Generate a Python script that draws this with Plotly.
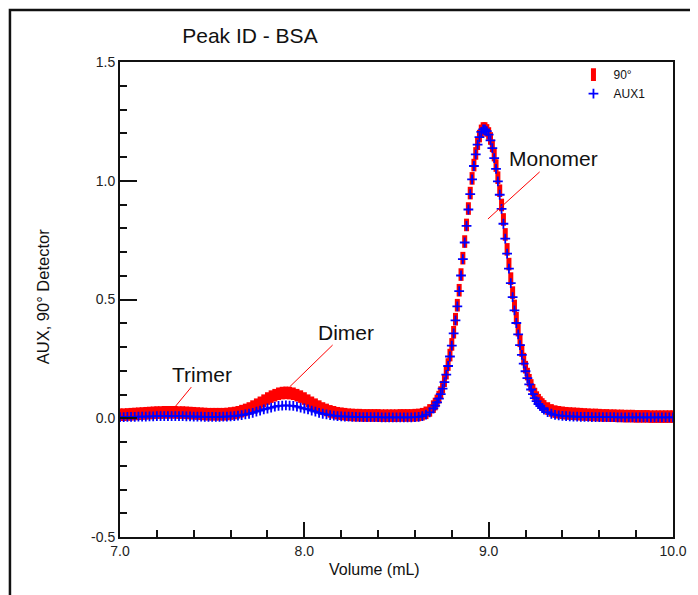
import plotly.graph_objects as go

# ---------------- data ----------------
volume_ml = [
    7.00, 7.02, 7.04, 7.06, 7.08, 7.10, 7.12, 7.14, 7.16, 7.18,
    7.20, 7.22, 7.24, 7.26, 7.28, 7.30, 7.32, 7.34, 7.36, 7.38,
    7.40, 7.42, 7.44, 7.46, 7.48, 7.50, 7.52, 7.54, 7.56, 7.58,
    7.60, 7.62, 7.64, 7.66, 7.68, 7.70, 7.72, 7.74, 7.76, 7.78,
    7.80, 7.82, 7.84, 7.86, 7.88, 7.90, 7.92, 7.94, 7.96, 7.98,
    8.00, 8.02, 8.04, 8.06, 8.08, 8.10, 8.12, 8.14, 8.16, 8.18,
    8.20, 8.22, 8.24, 8.26, 8.28, 8.30, 8.32, 8.34, 8.36, 8.38,
    8.40, 8.42, 8.44, 8.46, 8.48, 8.50, 8.52, 8.54, 8.56, 8.58,
    8.60, 8.62, 8.64, 8.66, 8.68,
    8.70, 8.71, 8.72, 8.73, 8.74, 8.75, 8.76, 8.77, 8.78, 8.79,
    8.80, 8.81, 8.82, 8.83, 8.84, 8.85, 8.86, 8.87, 8.88, 8.89,
    8.90, 8.91, 8.92, 8.93, 8.94, 8.95, 8.96, 8.97, 8.98, 8.99,
    9.00, 9.01, 9.02, 9.03, 9.04, 9.05, 9.06, 9.07, 9.08, 9.09,
    9.10, 9.11, 9.12, 9.13, 9.14, 9.15, 9.16, 9.17, 9.18, 9.19,
    9.20, 9.21, 9.22, 9.23, 9.24, 9.25, 9.26, 9.27, 9.28, 9.29,
    9.30,
    9.32, 9.34, 9.36, 9.38, 9.40, 9.42, 9.44, 9.46, 9.48, 9.50,
    9.52, 9.54, 9.56, 9.58, 9.60, 9.62, 9.64, 9.66, 9.68, 9.70,
    9.72, 9.74, 9.76, 9.78, 9.80, 9.82, 9.84, 9.86, 9.88, 9.90,
    9.92, 9.94, 9.96, 9.98, 10.00,
]

signal_90deg = [
    0.015, 0.015, 0.016, 0.017, 0.018, 0.019, 0.020, 0.021, 0.022, 0.023,
    0.024, 0.024, 0.025, 0.025, 0.025, 0.025, 0.024, 0.024, 0.023, 0.022,
    0.021, 0.020, 0.019, 0.018, 0.017, 0.017, 0.017, 0.017, 0.017, 0.018,
    0.020, 0.022, 0.025, 0.030, 0.035, 0.041, 0.049, 0.057, 0.065, 0.074,
    0.083, 0.091, 0.097, 0.103, 0.106, 0.107, 0.106, 0.103, 0.097, 0.091,
    0.083, 0.074, 0.065, 0.057, 0.049, 0.041, 0.035, 0.029, 0.025, 0.021,
    0.019, 0.017, 0.015, 0.014, 0.013, 0.013, 0.012, 0.012, 0.012, 0.012,
    0.012, 0.011, 0.011, 0.011, 0.011, 0.011, 0.012, 0.012, 0.012, 0.012,
    0.013, 0.014, 0.017, 0.023, 0.033,
    0.049, 0.060, 0.073, 0.089, 0.108, 0.131, 0.158, 0.190, 0.226, 0.266,
    0.311, 0.362, 0.417, 0.476, 0.539, 0.605, 0.674, 0.744, 0.814, 0.883,
    0.948, 1.010, 1.066, 1.115, 1.156, 1.188, 1.210, 1.220, 1.220, 1.212,
    1.199, 1.178, 1.147, 1.108, 1.064, 1.013, 0.958, 0.898, 0.837, 0.774,
    0.711, 0.649, 0.588, 0.529, 0.473, 0.421, 0.371, 0.326, 0.285, 0.249,
    0.215, 0.186, 0.160, 0.138, 0.118, 0.102, 0.087, 0.076, 0.066, 0.058,
    0.050,
    0.041, 0.033, 0.028, 0.025, 0.023, 0.021, 0.020, 0.019, 0.018, 0.017,
    0.016, 0.015, 0.014, 0.014, 0.013, 0.012, 0.012, 0.011, 0.011, 0.010,
    0.010, 0.009, 0.009, 0.009, 0.008, 0.008, 0.008, 0.008, 0.007, 0.007,
    0.007, 0.007, 0.007, 0.007, 0.007,
]

signal_aux1 = [
    0.005, 0.005, 0.006, 0.006, 0.006, 0.007, 0.007, 0.007, 0.008, 0.008,
    0.009, 0.009, 0.009, 0.009, 0.009, 0.009, 0.009, 0.009, 0.008, 0.008,
    0.007, 0.007, 0.007, 0.006, 0.006, 0.006, 0.006, 0.006, 0.007, 0.007,
    0.008, 0.009, 0.011, 0.013, 0.016, 0.019, 0.023, 0.028, 0.032, 0.037,
    0.041, 0.045, 0.049, 0.052, 0.053, 0.054, 0.053, 0.052, 0.049, 0.045,
    0.041, 0.037, 0.032, 0.028, 0.023, 0.019, 0.016, 0.013, 0.011, 0.009,
    0.008, 0.007, 0.007, 0.006, 0.006, 0.005, 0.005, 0.005, 0.005, 0.005,
    0.005, 0.004, 0.004, 0.004, 0.004, 0.004, 0.004, 0.004, 0.004, 0.004,
    0.005, 0.006, 0.009, 0.015, 0.025,
    0.042, 0.053, 0.067, 0.083, 0.102, 0.125, 0.152, 0.184, 0.220, 0.260,
    0.306, 0.357, 0.412, 0.471, 0.535, 0.601, 0.670, 0.740, 0.810, 0.879,
    0.944, 1.006, 1.062, 1.111, 1.152, 1.184, 1.206, 1.216, 1.216, 1.209,
    1.194, 1.170, 1.137, 1.095, 1.050, 0.997, 0.941, 0.882, 0.819, 0.756,
    0.693, 0.630, 0.569, 0.510, 0.454, 0.401, 0.353, 0.308, 0.267, 0.230,
    0.198, 0.169, 0.143, 0.121, 0.102, 0.085, 0.072, 0.060, 0.051, 0.043,
    0.036,
    0.026, 0.019, 0.014, 0.012, 0.010, 0.009, 0.008, 0.007, 0.007, 0.006,
    0.006, 0.006, 0.005, 0.005, 0.005, 0.005, 0.005, 0.005, 0.005, 0.004,
    0.004, 0.004, 0.004, 0.004, 0.004, 0.004, 0.004, 0.004, 0.004, 0.004,
    0.004, 0.004, 0.004, 0.004, 0.004,
]

assert len(volume_ml) == len(signal_90deg) == len(signal_aux1)

series_names = ["90°", "AUX1"]
x_tick_values = [7.0, 8.0, 9.0, 10.0]
x_tick_labels = ["7.0", "8.0", "9.0", "10.0"]
y_tick_values = [-0.5, 0.0, 0.5, 1.0, 1.5]
y_tick_labels = ["-0.5", "0.0", "0.5", "1.0", "1.5"]

# peak labels: (text, point on curve x, y, label centre x, y)
peak_labels = [
    ("Trimer", 7.29, 0.040, 7.445, 0.186),
    ("Dimer", 7.92, 0.132, 8.226, 0.363),
    ("Monomer", 8.996, 0.839, 9.354, 1.092),
]

FONT = "Liberation Sans, Arial, sans-serif"

fig = go.Figure()
fig.add_trace(go.Scatter(
    x=volume_ml, y=signal_90deg, name=series_names[0], mode="markers",
    marker=dict(symbol="line-ns", size=9, color="#ff0000",
                line=dict(width=5, color="#ff0000")),
))
fig.add_trace(go.Scatter(
    x=volume_ml, y=signal_aux1, name=series_names[1], mode="markers",
    marker=dict(symbol="cross-thin", size=7, color="#0000ff",
                line=dict(width=1.8, color="#0000ff")),
))

for text, px, py, tx, ty in peak_labels:
    fig.add_annotation(
        x=px, y=py, ax=tx, ay=ty, xref="x", yref="y", axref="x", ayref="y",
        text=text, showarrow=True, arrowhead=0, arrowwidth=1,
        arrowcolor="#ff0000", standoff=0, startstandoff=0,
        font=dict(family=FONT, size=21, color="#111111"),
    )

# axis titles
fig.add_annotation(
    x=0.461, y=-0.069, xref="paper", yref="paper", showarrow=False,
    text="Volume (mL)", font=dict(family=FONT, size=16, color="#111111"),
    xanchor="center", yanchor="middle",
)
fig.add_annotation(
    x=-0.139, y=0.505, xref="paper", yref="paper", showarrow=False,
    text="AUX, 90° Detector", textangle=-90,
    font=dict(family=FONT, size=16.5, color="#111111"),
    xanchor="center", yanchor="middle",
)

# outer frame
fig.add_shape(type="rect", xref="paper", yref="paper",
              x0=-0.199, x1=1.2, y0=-0.3, y1=1.1095,
              line=dict(color="#111111", width=2.5), layer="above")

axis_common = dict(
    showline=True, linecolor="#111111", linewidth=2, mirror=True,
    showgrid=False, zeroline=False, ticks="inside", tickcolor="#111111",
    tickwidth=2,
    tickfont=dict(family=FONT, size=14, color="#222222"),
)

fig.update_xaxes(
    range=[7.0, 10.0], tickvals=x_tick_values, ticktext=x_tick_labels,
    ticklen=15,
    minor=dict(ticks="inside", dtick=0.2, tick0=7.0, ticklen=7, tickwidth=1.5,
               tickcolor="#111111", showgrid=False),
    **axis_common,
)
fig.update_yaxes(
    range=[-0.5, 1.5], tickvals=y_tick_values, ticktext=y_tick_labels,
    ticklen=17,
    minor=dict(ticks="inside", dtick=0.1, tick0=0.0, ticklen=7, tickwidth=1.5,
               tickcolor="#111111", showgrid=False),
    **axis_common,
)

fig.update_layout(
    width=698, height=595,
    margin=dict(l=112, r=33, t=54, b=66),
    paper_bgcolor="white", plot_bgcolor="white",
    title=dict(text="Peak ID - BSA", x=0.235, xref="paper", xanchor="center",
               y=1 - 28 / 595, yref="container", yanchor="middle",
               font=dict(family=FONT, size=21, color="#111111")),
    showlegend=True,
    legend=dict(x=0.82, y=1.004, xanchor="left", yanchor="top",
                bgcolor="rgba(0,0,0,0)", borderwidth=0,
                font=dict(family=FONT, size=12, color="#111111"),
                tracegroupgap=0, itemsizing="trace"),
)

fig.write_html("out.html")
